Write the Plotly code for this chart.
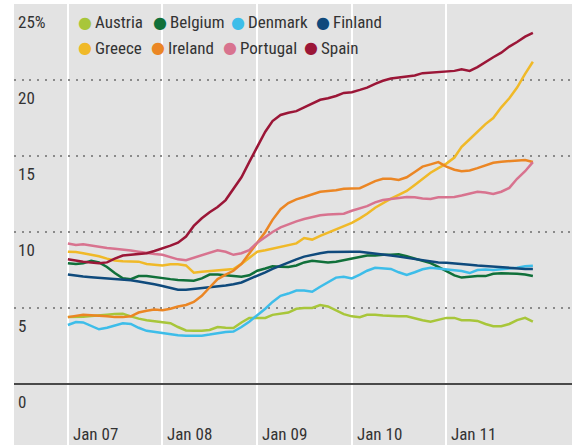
import pandas as pd
import plotly.graph_objects as go

# ---------------- data ----------------
months = pd.date_range("2007-01-01", periods=60, freq="MS")

countries = ["Austria", "Belgium", "Denmark", "Finland",
             "Greece", "Ireland", "Portugal", "Spain"]

austria = [4.4, 4.4, 4.42, 4.48, 4.54, 4.56, 4.6, 4.62, 4.45, 4.3,
           4.2, 4.15, 4.1, 4.0, 3.75, 3.52, 3.5, 3.5, 3.55, 3.75,
           3.7, 3.68, 4.05, 4.35, 4.35, 4.35, 4.55, 4.65, 4.7, 4.95,
           5.0, 5.0, 5.2, 5.1, 4.85, 4.6, 4.45, 4.4, 4.55, 4.55,
           4.5, 4.45, 4.45, 4.45, 4.3, 4.2, 4.1, 4.2, 4.35, 4.35,
           4.2, 4.2, 4.15, 3.95, 3.8, 3.8, 3.95, 4.2, 4.35, 4.1]

belgium = [7.95, 7.9, 7.95, 8.1, 8.0, 7.7, 7.3, 6.95, 6.9, 7.1,
           7.1, 7.05, 7.0, 6.9, 6.85, 6.8, 6.8, 6.95, 7.2, 7.2,
           7.15, 7.1, 7.05, 7.15, 7.45, 7.6, 7.75, 7.72, 7.7, 7.8,
           8.0, 8.1, 8.05, 8.0, 8.05, 8.15, 8.3, 8.4, 8.45, 8.45,
           8.5, 8.5, 8.53, 8.4, 8.25, 8.1, 7.95, 7.7, 7.4, 7.15,
           7.0, 7.05, 7.1, 7.1, 7.25, 7.28, 7.28, 7.25, 7.2, 7.1]

denmark = [3.88, 4.08, 4.05, 3.8, 3.6, 3.7, 3.85, 4.0, 3.95, 3.7,
           3.5, 3.42, 3.38, 3.3, 3.2, 3.17, 3.18, 3.18, 3.25, 3.35,
           3.42, 3.45, 3.75, 4.1, 4.5, 4.95, 5.4, 5.8, 5.95, 6.15,
           6.15, 6.07, 6.4, 6.7, 7.0, 7.05, 6.95, 7.2, 7.45, 7.65,
           7.62, 7.57, 7.35, 7.17, 7.35, 7.55, 7.65, 7.6, 7.54, 7.5,
           7.43, 7.3, 7.5, 7.54, 7.5, 7.55, 7.6, 7.65, 7.75, 7.78]

finland = [7.2, 7.12, 7.08, 7.03, 7.0, 6.95, 6.9, 6.87, 6.83, 6.75,
           6.67, 6.56, 6.45, 6.3, 6.2, 6.2, 6.25, 6.3, 6.36, 6.4,
           6.48, 6.56, 6.68, 6.9, 7.1, 7.35, 7.58, 7.8, 8.0, 8.2,
           8.38, 8.5, 8.6, 8.68, 8.7, 8.7, 8.7, 8.7, 8.65, 8.55,
           8.5, 8.45, 8.38, 8.3, 8.2, 8.12, 8.03, 8.0, 7.98, 7.95,
           7.9, 7.85, 7.8, 7.76, 7.72, 7.65, 7.6, 7.57, 7.57, 7.57]

greece = [8.7, 8.68, 8.6, 8.5, 8.4, 8.25, 8.12, 8.07, 8.07, 8.05,
          7.9, 7.85, 7.8, 7.88, 7.88, 7.8, 7.32, 7.38, 7.42, 7.5,
          7.52, 7.56, 7.9, 8.3, 8.7, 8.8, 8.9, 9.0, 9.1, 9.25,
          9.6, 9.5, 9.75, 9.95, 10.15, 10.4, 10.6, 10.9, 11.2, 11.6,
          11.9, 12.2, 12.45, 12.7, 13.1, 13.5, 13.9, 14.2, 14.5, 14.9,
          15.6, 16.1, 16.6, 17.1, 17.5, 18.2, 18.8, 19.5, 20.4, 21.2]

ireland = [4.4, 4.5, 4.55, 4.52, 4.5, 4.45, 4.4, 4.4, 4.45, 4.7,
           4.82, 4.9, 4.85, 4.95, 5.1, 5.2, 5.4, 5.8, 6.35, 6.9,
           7.2, 7.45, 7.9, 8.6, 9.3, 10.0, 10.8, 11.5, 11.9, 12.15,
           12.3, 12.45, 12.65, 12.7, 12.75, 12.85, 12.87, 12.88, 13.1, 13.35,
           13.5, 13.5, 13.42, 13.6, 13.95, 14.3, 14.45, 14.6, 14.3, 14.1,
           14.0, 14.05, 14.2, 14.4, 14.55, 14.62, 14.66, 14.7, 14.74, 14.6]

portugal = [9.25, 9.15, 9.2, 9.1, 9.0, 8.95, 8.9, 8.85, 8.78, 8.7,
            8.6, 8.55, 8.5, 8.35, 8.2, 8.15, 8.3, 8.5, 8.65, 8.8,
            8.7, 8.5, 8.6, 8.8, 9.3, 9.7, 10.0, 10.3, 10.5, 10.7,
            10.85, 11.0, 11.1, 11.15, 11.2, 11.2, 11.4, 11.55, 11.7, 11.95,
            12.1, 12.17, 12.25, 12.3, 12.28, 12.2, 12.17, 12.28, 12.28, 12.3,
            12.4, 12.55, 12.65, 12.6, 12.5, 12.65, 12.9, 13.5, 14.0, 14.6]

spain = [8.2, 8.1, 8.05, 8.0, 7.94, 8.0, 8.25, 8.45, 8.5, 8.55,
         8.6, 8.75, 8.9, 9.1, 9.3, 9.7, 10.4, 10.9, 11.3, 11.65,
         12.1, 12.8, 13.6, 14.6, 15.6, 16.6, 17.3, 17.7, 17.85, 17.95,
         18.2, 18.45, 18.7, 18.8, 18.95, 19.15, 19.2, 19.35, 19.5, 19.75,
         19.95, 20.1, 20.15, 20.2, 20.3, 20.45, 20.5, 20.5, 20.55, 20.6,
         20.7, 20.6, 20.85, 21.2, 21.5, 21.8, 22.2, 22.5, 22.85, 23.1]

series = [austria, belgium, denmark, finland, greece, ireland, portugal, spain]

colors = ["#a8c63a", "#10703a", "#3dbde9", "#0f4a7c",
          "#f0b928", "#eb8624", "#d8738f", "#9b1637"]

x_tick_dates = ["2007-01-01", "2008-01-01", "2009-01-01", "2010-01-01", "2011-01-01"]
x_tick_labels = ["Jan 07", "Jan 08", "Jan 09", "Jan 10", "Jan 11"]
y_tick_vals = [0, 5, 10, 15, 20, 25]
y_tick_labels = ["0", "5", "10", "15", "20", "25%"]

# ---------------- figure ----------------
W, H = 576, 445
ML, MR, MT, MB = 14, 4, 4, 0
PW, PH = W - ML - MR, H - MT - MB


def px_x(px):
    return (px - ML) / PW


def px_y(py):
    return (H - MB - py) / PH


FONT = "Roboto Condensed, Liberation Sans Narrow, DejaVu Sans Condensed, sans-serif"
FS = 17
TXT = "#333333"

fig = go.Figure()
for name, vals, col in zip(countries, series, colors):
    fig.add_trace(go.Scatter(x=months, y=vals, name=name, mode="lines",
                             line=dict(color=col, width=2.5)))

ann = []
# y labels (below each gridline)
for v, t in zip(y_tick_vals, y_tick_labels):
    ann.append(dict(xref="paper", x=px_x(16), xanchor="left",
                    yref="y", y=v, yshift=-18, yanchor="middle",
                    text=t, showarrow=False,
                    font=dict(family=FONT, size=FS, color=TXT)))
# x labels (right of each January line)
for d, t in zip(x_tick_dates, x_tick_labels):
    ann.append(dict(xref="x", x=d, xshift=3, xanchor="left",
                    yref="paper", y=px_y(434), yanchor="middle",
                    text=t, showarrow=False,
                    font=dict(family=FONT, size=FS, color=TXT)))
# legend
leg_dot_x = [85, 160, 238, 323, 85, 158, 230, 311]
leg_row_y = [22, 22, 22, 22, 48, 48, 48, 48]
for name, col, dx, ry in zip(countries, colors, leg_dot_x, leg_row_y):
    ann.append(dict(xref="paper", x=px_x(dx), xanchor="center",
                    yref="paper", y=px_y(ry), yanchor="middle",
                    text="●", showarrow=False,
                    font=dict(family="DejaVu Sans", size=16, color=col)))
    ann.append(dict(xref="paper", x=px_x(dx + 8), xanchor="left",
                    yref="paper", y=px_y(ry), yanchor="middle",
                    text=name, showarrow=False,
                    font=dict(family=FONT, size=FS, color=TXT)))

fig.update_layout(
    width=W, height=H,
    margin=dict(l=ML, r=MR, t=MT, b=MB),
    paper_bgcolor="white", plot_bgcolor="#e3e3e3",
    showlegend=False,
    annotations=ann,
    xaxis=dict(type="date", range=["2006-06-07", "2012-04-30"],
               tickmode="array", tickvals=x_tick_dates, showticklabels=False,
               ticks="", showgrid=True, gridcolor="white", gridwidth=2,
               zeroline=False, showline=False),
    yaxis=dict(range=[-4.013, 25.0], tickmode="array", tickvals=[5, 10, 15, 20],
               showticklabels=False, ticks="", showgrid=True,
               gridcolor="#8a8a8a", gridwidth=1.5, griddash="2px,5.7px",
               zeroline=True, zerolinecolor="#4a4a4a", zerolinewidth=2,
               showline=False),
)

fig.write_html("out.html", config={"displayModeBar": False},
               post_script="document.body.style.margin='0';")
